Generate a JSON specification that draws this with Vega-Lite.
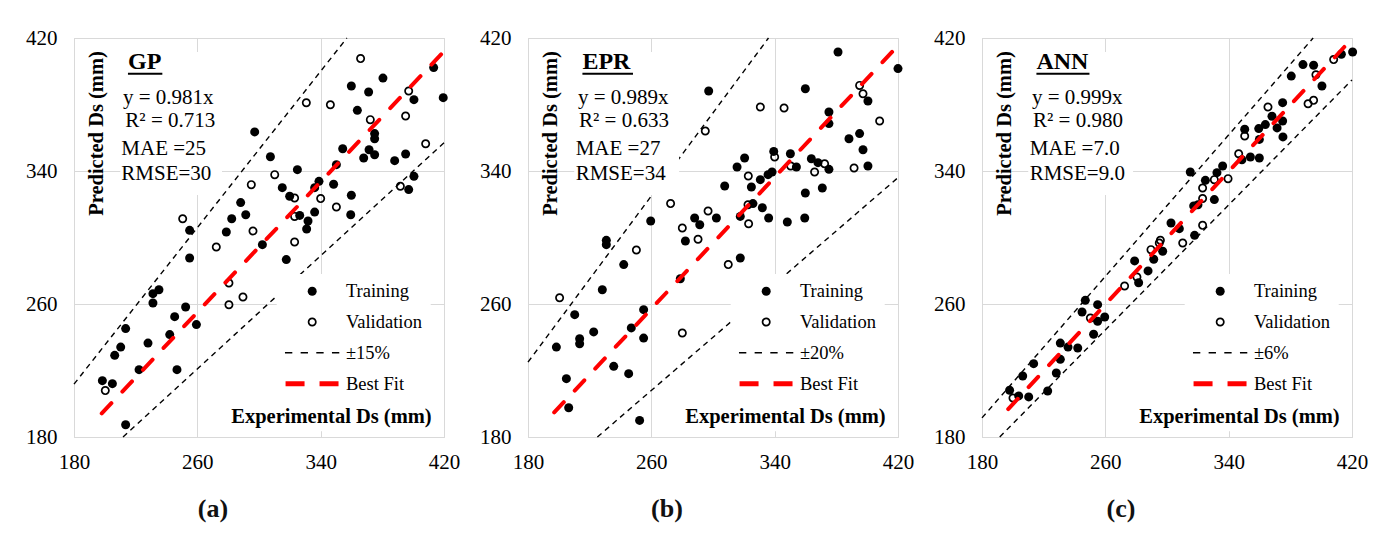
{
  "$schema": "https://vega.github.io/schema/vega-lite/v6.json",
  "background": "white",
  "padding": {"left": 25, "top": 26, "right": 0, "bottom": 0},
  "bounds": "flush",
  "spacing": 84,
  "config": {
    "view": {"stroke": "#d4d4d4", "strokeWidth": 1},
    "font": "Liberation Serif",
    "axis": {"grid": true, "gridColor": "#d9d9d9", "gridWidth": 1, "domain": false, "ticks": false, "labelFont": "Liberation Serif", "labelFontSize": 21, "labelColor": "black", "labelFlush": false, "titleFont": "Liberation Serif", "titleFontSize": 20.5, "titleFontWeight": "bold", "titleColor": "black"},
    "axisX": {"labelPadding": 14},
    "axisY": {"labelPadding": 17},
    "legend": {"orient": "none", "legendX": 202.7, "legendY": 236, "title": null, "fillColor": "white", "padding": 8, "symbolSize": 81, "symbolStrokeWidth": 0, "symbolOffset": 18.25, "labelOffset": 24.5, "rowPadding": 11.8, "labelFont": "Liberation Serif", "labelFontSize": 18.5, "labelColor": "black", "labelBaseline": "middle", "labelLimit": 200},
    "title": {"font": "Liberation Serif", "fontSize": 26, "fontWeight": "bold", "color": "#111111", "orient": "bottom", "anchor": "middle", "dx": -46, "offset": 24}
  },
  "datasets": {
    "gp_points": [
      {"x":198.4,"y":213.9,"series":"Training"},{"x":204.9,"y":212.1,"series":"Training"},{"x":213.5,"y":187.4,"series":"Training"},{"x":206.4,"y":229.1,"series":"Training"},{"x":210.3,"y":234.1,"series":"Training"},{"x":213.5,"y":245.2,"series":"Training"},{"x":222.2,"y":220.5,"series":"Training"},{"x":228.0,"y":236.5,"series":"Training"},{"x":231.2,"y":266.2,"series":"Training"},{"x":235.1,"y":268.6,"series":"Training"},{"x":231.2,"y":260.6,"series":"Training"},{"x":242.1,"y":241.6,"series":"Training"},{"x":245.3,"y":252.4,"series":"Training"},{"x":246.8,"y":220.5,"series":"Training"},{"x":252.4,"y":258.2,"series":"Training"},{"x":259.4,"y":247.6,"series":"Training"},{"x":255.0,"y":287.7,"series":"Training"},{"x":255.0,"y":304.3,"series":"Training"},{"x":278.8,"y":303.3,"series":"Training"},{"x":282.3,"y":311.3,"series":"Training"},{"x":288.1,"y":321.0,"series":"Training"},{"x":291.4,"y":313.7,"series":"Training"},{"x":297.2,"y":363.5,"series":"Training"},{"x":302.2,"y":295.7,"series":"Training"},{"x":307.4,"y":348.6,"series":"Training"},{"x":315.1,"y":330.0,"series":"Training"},{"x":319.9,"y":324.8,"series":"Training"},{"x":324.9,"y":340.8,"series":"Training"},{"x":317.7,"y":286.7,"series":"Training"},{"x":326.4,"y":313.3,"series":"Training"},{"x":331.8,"y":309.9,"series":"Training"},{"x":330.9,"y":305.1,"series":"Training"},{"x":336.1,"y":315.3,"series":"Training"},{"x":336.1,"y":330.0,"series":"Training"},{"x":338.9,"y":333.8,"series":"Training"},{"x":348.4,"y":332.0,"series":"Training"},{"x":350.2,"y":343.8,"series":"Training"},{"x":354.3,"y":353.4,"series":"Training"},{"x":359.9,"y":325.4,"series":"Training"},{"x":359.5,"y":313.7,"series":"Training"},{"x":359.9,"y":391.1,"series":"Training"},{"x":363.8,"y":376.5,"series":"Training"},{"x":371.1,"y":387.5,"series":"Training"},{"x":375.0,"y":362.5,"series":"Training"},{"x":375.0,"y":359.4,"series":"Training"},{"x":371.4,"y":352.8,"series":"Training"},{"x":375.0,"y":349.8,"series":"Training"},{"x":367.9,"y":347.8,"series":"Training"},{"x":380.4,"y":395.9,"series":"Training"},{"x":388.0,"y":346.2,"series":"Training"},{"x":395.1,"y":350.2,"series":"Training"},{"x":400.5,"y":382.9,"series":"Training"},{"x":400.5,"y":336.8,"series":"Training"},{"x":397.1,"y":328.8,"series":"Training"},{"x":413.3,"y":402.2,"series":"Training"},{"x":419.5,"y":384.1,"series":"Training"},
      {"x":200.3,"y":207.9,"series":"Validation"},{"x":250.5,"y":311.3,"series":"Validation"},{"x":272.3,"y":294.3,"series":"Validation"},{"x":280.5,"y":272.6,"series":"Validation"},{"x":280.5,"y":259.6,"series":"Validation"},{"x":289.6,"y":264.2,"series":"Validation"},{"x":296.1,"y":303.9,"series":"Validation"},{"x":295.0,"y":331.8,"series":"Validation"},{"x":310.2,"y":337.8,"series":"Validation"},{"x":323.1,"y":323.8,"series":"Validation"},{"x":323.1,"y":312.7,"series":"Validation"},{"x":323.1,"y":297.3,"series":"Validation"},{"x":330.7,"y":381.1,"series":"Validation"},{"x":340.0,"y":323.4,"series":"Validation"},{"x":346.3,"y":379.9,"series":"Validation"},{"x":350.2,"y":318.3,"series":"Validation"},{"x":365.9,"y":407.6,"series":"Validation"},{"x":372.2,"y":370.9,"series":"Validation"},{"x":391.7,"y":330.8,"series":"Validation"},{"x":395.1,"y":373.1,"series":"Validation"},{"x":397.1,"y":388.1,"series":"Validation"},{"x":408.1,"y":356.4,"series":"Validation"}
    ],
    "gp_band": [
      {"x":180,"y":211.8,"line":"upper"},{"x":357,"y":420,"line":"upper"},
      {"x":211.8,"y":180,"line":"lower"},{"x":420,"y":357,"line":"lower"}
    ],
    "gp_fit": [{"x":198,"y":194.2},{"x":420,"y":412.0}],
    "epr_points": [
      {"x":297.2,"y":388.1,"series":"Training"},{"x":381.1,"y":411.6,"series":"Training"},{"x":420.0,"y":401.6,"series":"Training"},{"x":359.9,"y":389.5,"series":"Training"},{"x":375.2,"y":375.5,"series":"Training"},{"x":375.2,"y":368.5,"series":"Training"},{"x":400.5,"y":382.1,"series":"Training"},{"x":388.2,"y":359.4,"series":"Training"},{"x":395.1,"y":362.5,"series":"Training"},{"x":397.3,"y":352.8,"series":"Training"},{"x":400.5,"y":343.0,"series":"Training"},{"x":339.4,"y":351.8,"series":"Training"},{"x":320.5,"y":347.8,"series":"Training"},{"x":315.6,"y":342.4,"series":"Training"},{"x":350.2,"y":350.4,"series":"Training"},{"x":354.1,"y":342.4,"series":"Training"},{"x":363.8,"y":347.4,"series":"Training"},{"x":368.1,"y":345.0,"series":"Training"},{"x":375.2,"y":341.0,"series":"Training"},{"x":338.3,"y":339.4,"series":"Training"},{"x":335.7,"y":337.8,"series":"Training"},{"x":330.7,"y":334.8,"series":"Training"},{"x":324.9,"y":330.4,"series":"Training"},{"x":307.6,"y":331.0,"series":"Training"},{"x":359.9,"y":326.8,"series":"Training"},{"x":370.9,"y":329.8,"series":"Training"},{"x":325.9,"y":320.4,"series":"Training"},{"x":332.0,"y":317.9,"series":"Training"},{"x":317.7,"y":312.7,"series":"Training"},{"x":336.1,"y":311.7,"series":"Training"},{"x":302.2,"y":311.7,"series":"Training"},{"x":288.1,"y":311.7,"series":"Training"},{"x":291.4,"y":307.7,"series":"Training"},{"x":282.1,"y":297.9,"series":"Training"},{"x":348.2,"y":309.3,"series":"Training"},{"x":359.5,"y":311.7,"series":"Training"},{"x":317.7,"y":287.7,"series":"Training"},{"x":259.6,"y":309.9,"series":"Training"},{"x":230.8,"y":298.3,"series":"Training"},{"x":230.8,"y":295.7,"series":"Training"},{"x":242.1,"y":283.7,"series":"Training"},{"x":228.2,"y":268.6,"series":"Training"},{"x":278.8,"y":275.2,"series":"Training"},{"x":255.0,"y":256.6,"series":"Training"},{"x":210.3,"y":253.6,"series":"Training"},{"x":222.6,"y":243.2,"series":"Training"},{"x":213.5,"y":239.1,"series":"Training"},{"x":213.5,"y":236.1,"series":"Training"},{"x":198.4,"y":234.1,"series":"Training"},{"x":247.0,"y":245.6,"series":"Training"},{"x":255.0,"y":239.5,"series":"Training"},{"x":235.6,"y":222.5,"series":"Training"},{"x":245.3,"y":218.1,"series":"Training"},{"x":204.9,"y":215.1,"series":"Training"},{"x":206.4,"y":197.6,"series":"Training"},{"x":252.4,"y":190.0,"series":"Training"},
      {"x":330.7,"y":378.5,"series":"Validation"},{"x":346.1,"y":377.9,"series":"Validation"},{"x":295.0,"y":364.1,"series":"Validation"},{"x":395.1,"y":391.5,"series":"Validation"},{"x":397.3,"y":386.5,"series":"Validation"},{"x":408.1,"y":370.1,"series":"Validation"},{"x":340.0,"y":348.4,"series":"Validation"},{"x":350.4,"y":343.0,"series":"Validation"},{"x":365.9,"y":339.4,"series":"Validation"},{"x":372.4,"y":344.4,"series":"Validation"},{"x":391.5,"y":341.8,"series":"Validation"},{"x":322.9,"y":337.0,"series":"Validation"},{"x":272.5,"y":320.4,"series":"Validation"},{"x":296.8,"y":315.9,"series":"Validation"},{"x":322.7,"y":319.7,"series":"Validation"},{"x":280.1,"y":305.7,"series":"Validation"},{"x":290.3,"y":298.9,"series":"Validation"},{"x":323.1,"y":308.3,"series":"Validation"},{"x":250.3,"y":292.5,"series":"Validation"},{"x":309.9,"y":283.7,"series":"Validation"},{"x":200.5,"y":263.8,"series":"Validation"},{"x":280.1,"y":242.6,"series":"Validation"}
    ],
    "epr_band": [
      {"x":180,"y":225,"line":"upper"},{"x":336,"y":420,"line":"upper"},
      {"x":225,"y":180,"line":"lower"},{"x":420,"y":336,"line":"lower"}
    ],
    "epr_fit": [{"x":197,"y":194.8},{"x":420,"y":415.4}],
    "ann_points": [
      {"x":420.4,"y":411.6,"series":"Training"},{"x":413.1,"y":410.2,"series":"Training"},{"x":388.2,"y":404.0,"series":"Training"},{"x":395.1,"y":403.6,"series":"Training"},{"x":380.6,"y":397.1,"series":"Training"},{"x":400.5,"y":391.1,"series":"Training"},{"x":375.0,"y":381.1,"series":"Training"},{"x":368.1,"y":372.9,"series":"Training"},{"x":375.0,"y":370.1,"series":"Training"},{"x":371.4,"y":365.9,"series":"Training"},{"x":375.2,"y":360.5,"series":"Training"},{"x":363.8,"y":367.9,"series":"Training"},{"x":359.5,"y":365.5,"series":"Training"},{"x":350.4,"y":365.1,"series":"Training"},{"x":359.9,"y":359.0,"series":"Training"},{"x":348.6,"y":346.8,"series":"Training"},{"x":354.1,"y":348.4,"series":"Training"},{"x":359.9,"y":347.8,"series":"Training"},{"x":315.1,"y":339.4,"series":"Training"},{"x":336.1,"y":343.0,"series":"Training"},{"x":332.4,"y":339.0,"series":"Training"},{"x":324.9,"y":334.4,"series":"Training"},{"x":330.7,"y":322.8,"series":"Training"},{"x":317.3,"y":319.0,"series":"Training"},{"x":320.1,"y":319.7,"series":"Training"},{"x":302.6,"y":308.7,"series":"Training"},{"x":308.0,"y":305.3,"series":"Training"},{"x":317.9,"y":301.3,"series":"Training"},{"x":297.2,"y":291.7,"series":"Training"},{"x":291.4,"y":286.9,"series":"Training"},{"x":279.0,"y":285.9,"series":"Training"},{"x":287.7,"y":279.9,"series":"Training"},{"x":281.6,"y":272.8,"series":"Training"},{"x":247.0,"y":262.2,"series":"Training"},{"x":255.0,"y":259.6,"series":"Training"},{"x":244.9,"y":255.2,"series":"Training"},{"x":259.6,"y":252.2,"series":"Training"},{"x":255.0,"y":249.6,"series":"Training"},{"x":252.4,"y":241.8,"series":"Training"},{"x":230.8,"y":236.5,"series":"Training"},{"x":235.8,"y":234.1,"series":"Training"},{"x":242.1,"y":233.5,"series":"Training"},{"x":230.8,"y":226.7,"series":"Training"},{"x":213.5,"y":224.1,"series":"Training"},{"x":228.2,"y":218.5,"series":"Training"},{"x":206.4,"y":216.7,"series":"Training"},{"x":197.9,"y":208.1,"series":"Training"},{"x":203.8,"y":204.7,"series":"Training"},{"x":210.3,"y":204.1,"series":"Training"},{"x":222.6,"y":207.7,"series":"Training"},
      {"x":408.1,"y":407.0,"series":"Validation"},{"x":396.6,"y":397.9,"series":"Validation"},{"x":391.5,"y":380.5,"series":"Validation"},{"x":395.1,"y":382.5,"series":"Validation"},{"x":365.5,"y":378.5,"series":"Validation"},{"x":350.4,"y":361.1,"series":"Validation"},{"x":346.5,"y":350.4,"series":"Validation"},{"x":339.6,"y":335.4,"series":"Validation"},{"x":330.7,"y":334.8,"series":"Validation"},{"x":323.1,"y":329.8,"series":"Validation"},{"x":323.1,"y":323.4,"series":"Validation"},{"x":323.1,"y":307.3,"series":"Validation"},{"x":310.2,"y":296.7,"series":"Validation"},{"x":295.7,"y":298.3,"series":"Validation"},{"x":295.0,"y":296.7,"series":"Validation"},{"x":289.6,"y":292.7,"series":"Validation"},{"x":272.5,"y":270.8,"series":"Validation"},{"x":280.5,"y":276.2,"series":"Validation"},{"x":250.3,"y":251.6,"series":"Validation"},{"x":200.1,"y":203.5,"series":"Validation"}
    ],
    "ann_band": [
      {"x":180,"y":191.5,"line":"upper"},{"x":394.8,"y":420,"line":"upper"},
      {"x":191.5,"y":180,"line":"lower"},{"x":420,"y":394.8,"line":"lower"}
    ],
    "ann_fit": [{"x":197,"y":196.8},{"x":420,"y":419.6}]
  },
  "hconcat": [
    {
      "width": 370, "height": 399,
      "title": {"text": "(a)"},
      "layer": [
        {"data": {"name": "gp_band"}, "mark": {"type": "line", "color": "black", "strokeDash": [5.5, 4.5], "strokeWidth": 1.4},
         "encoding": {
           "x": {"field": "x", "type": "quantitative", "scale": {"domain": [180, 420], "nice": false, "zero": false}, "axis": {"values": [180, 260, 340, 420], "title": null}},
           "y": {"field": "y", "type": "quantitative", "scale": {"domain": [180, 420], "nice": false, "zero": false}, "axis": {"values": [180, 260, 340, 420], "title": "Predicted Ds (mm)", "titleX": 22.5, "titleY": 95, "titleAlign": "center", "titleBaseline": "middle", "titleAngle": -90}},
           "detail": {"field": "line"}}},
        {"data": {"values": [{}]}, "mark": {"type": "rect", "color": "white"}, "encoding": {"x": {"datum": 210, "type": "quantitative"}, "x2": {"datum": 276}, "y": {"datum": 325.5, "type": "quantitative"}, "y2": {"datum": 411.6}}},
        {"data": {"values": [{}]}, "mark": {"type": "rect", "color": "white"}, "encoding": {"x": {"datum": 280, "type": "quantitative"}, "x2": {"datum": 416}, "y": {"datum": 183.5, "type": "quantitative"}, "y2": {"datum": 203}}},
        {"data": {"name": "gp_points"}, "mark": {"type": "point", "filled": true, "opacity": 1, "size": 81},
         "encoding": {
           "x": {"field": "x", "type": "quantitative", "axis": {"values": [180, 260, 340, 420], "title": null}},
           "y": {"field": "y", "type": "quantitative", "axis": {"values": [180, 260, 340, 420], "title": "Predicted Ds (mm)", "titleX": 22.5, "titleY": 95, "titleAlign": "center", "titleBaseline": "middle", "titleAngle": -90}},
           "shape": {"field": "series", "type": "nominal", "scale": {"domain": ["Training", "Validation", "±15%", "Best Fit"], "range": ["circle", "M-1,0A1,1 0 1,0 1,0A1,1 0 1,0 -1,0Z M-0.62,0A0.62,0.62 0 1,1 0.62,0A0.62,0.62 0 1,1 -0.62,0Z", "M-6.05,-0.17H-4.42V0.17H-6.05Z M-2.57,-0.17H-0.94V0.17H-2.57Z M0.91,-0.17H2.54V0.17H0.91Z M4.39,-0.17H6.02V0.17H4.39Z", "M-5.92,-0.55H-1.7V0.55H-5.92Z M1.63,-0.55H5.85V0.55H1.63Z"]}},
           "color": {"field": "series", "type": "nominal", "scale": {"domain": ["Training", "Validation", "±15%", "Best Fit"], "range": ["black", "black", "black", "#ff0000"]}}
         }},
        {"data": {"name": "gp_fit"}, "mark": {"type": "line", "color": "#ff0000", "strokeDash": [14, 16], "strokeWidth": 4, "strokeCap": "round"},
         "encoding": {
           "x": {"field": "x", "type": "quantitative", "axis": {"values": [180, 260, 340, 420], "title": null}},
           "y": {"field": "y", "type": "quantitative", "axis": {"values": [180, 260, 340, 420], "title": "Predicted Ds (mm)", "titleX": 22.5, "titleY": 95, "titleAlign": "center", "titleBaseline": "middle", "titleAngle": -90}}}},
        {"data": {"values": [{}]}, "mark": {"type": "text", "align": "center", "baseline": "middle", "fontSize": 20.5, "fontWeight": "bold", "color": "black"}, "encoding": {"x": {"datum": 347, "type": "quantitative"}, "y": {"datum": 192, "type": "quantitative"}, "text": {"value": "Experimental Ds (mm)"}}},
        {"data": {"values": [{}]}, "mark": {"type": "text", "align": "left", "baseline": "middle", "fontSize": 24, "fontWeight": "bold", "color": "black"}, "encoding": {"x": {"datum": 215, "type": "quantitative"}, "y": {"datum": 405.6, "type": "quantitative"}, "text": {"value": "GP"}}},
        {"data": {"values": [{}]}, "mark": {"type": "rule", "color": "black", "strokeWidth": 2}, "encoding": {"x": {"datum": 215, "type": "quantitative"}, "x2": {"datum": 237.3}, "y": {"datum": 398.5, "type": "quantitative"}}},
        {"data": {"values": [{}]}, "mark": {"type": "text", "align": "left", "baseline": "middle", "fontSize": 21, "color": "black"}, "encoding": {"x": {"datum": 211.8, "type": "quantitative"}, "y": {"datum": 383.9, "type": "quantitative"}, "text": {"value": "y = 0.981x"}}},
        {"data": {"values": [{}]}, "mark": {"type": "text", "align": "left", "baseline": "middle", "fontSize": 21, "color": "black"}, "encoding": {"x": {"datum": 213.3, "type": "quantitative"}, "y": {"datum": 370.1, "type": "quantitative"}, "text": {"value": "R² = 0.713"}}},
        {"data": {"values": [{}]}, "mark": {"type": "text", "align": "left", "baseline": "middle", "fontSize": 21, "color": "black"}, "encoding": {"x": {"datum": 210.7, "type": "quantitative"}, "y": {"datum": 353.2, "type": "quantitative"}, "text": {"value": "MAE =25"}}},
        {"data": {"values": [{}]}, "mark": {"type": "text", "align": "left", "baseline": "middle", "fontSize": 21, "color": "black"}, "encoding": {"x": {"datum": 210.7, "type": "quantitative"}, "y": {"datum": 338.4, "type": "quantitative"}, "text": {"value": "RMSE=30"}}}
      ]
    },
    {
      "width": 370, "height": 399,
      "title": {"text": "(b)"},
      "layer": [
        {"data": {"name": "epr_band"}, "mark": {"type": "line", "color": "black", "strokeDash": [5.5, 4.5], "strokeWidth": 1.4},
         "encoding": {
           "x": {"field": "x", "type": "quantitative", "scale": {"domain": [180, 420], "nice": false, "zero": false}, "axis": {"values": [180, 260, 340, 420], "title": null}},
           "y": {"field": "y", "type": "quantitative", "scale": {"domain": [180, 420], "nice": false, "zero": false}, "axis": {"values": [180, 260, 340, 420], "title": "Predicted Ds (mm)", "titleX": 22.5, "titleY": 95, "titleAlign": "center", "titleBaseline": "middle", "titleAngle": -90}},
           "detail": {"field": "line"}}},
        {"data": {"values": [{}]}, "mark": {"type": "rect", "color": "white"}, "encoding": {"x": {"datum": 210, "type": "quantitative"}, "x2": {"datum": 278}, "y": {"datum": 325.5, "type": "quantitative"}, "y2": {"datum": 411.6}}},
        {"data": {"values": [{}]}, "mark": {"type": "rect", "color": "white"}, "encoding": {"x": {"datum": 280, "type": "quantitative"}, "x2": {"datum": 416}, "y": {"datum": 183.5, "type": "quantitative"}, "y2": {"datum": 203}}},
        {"data": {"name": "epr_points"}, "mark": {"type": "point", "filled": true, "opacity": 1, "size": 81},
         "encoding": {
           "x": {"field": "x", "type": "quantitative", "axis": {"values": [180, 260, 340, 420], "title": null}},
           "y": {"field": "y", "type": "quantitative", "axis": {"values": [180, 260, 340, 420], "title": "Predicted Ds (mm)", "titleX": 22.5, "titleY": 95, "titleAlign": "center", "titleBaseline": "middle", "titleAngle": -90}},
           "shape": {"field": "series", "type": "nominal", "scale": {"domain": ["Training", "Validation", "±20%", "Best Fit"], "range": ["circle", "M-1,0A1,1 0 1,0 1,0A1,1 0 1,0 -1,0Z M-0.62,0A0.62,0.62 0 1,1 0.62,0A0.62,0.62 0 1,1 -0.62,0Z", "M-6.05,-0.17H-4.42V0.17H-6.05Z M-2.57,-0.17H-0.94V0.17H-2.57Z M0.91,-0.17H2.54V0.17H0.91Z M4.39,-0.17H6.02V0.17H4.39Z", "M-5.92,-0.55H-1.7V0.55H-5.92Z M1.63,-0.55H5.85V0.55H1.63Z"]}},
           "color": {"field": "series", "type": "nominal", "scale": {"domain": ["Training", "Validation", "±20%", "Best Fit"], "range": ["black", "black", "black", "#ff0000"]}}
         }},
        {"data": {"name": "epr_fit"}, "mark": {"type": "line", "color": "#ff0000", "strokeDash": [14, 16], "strokeWidth": 4, "strokeCap": "round"},
         "encoding": {
           "x": {"field": "x", "type": "quantitative", "axis": {"values": [180, 260, 340, 420], "title": null}},
           "y": {"field": "y", "type": "quantitative", "axis": {"values": [180, 260, 340, 420], "title": "Predicted Ds (mm)", "titleX": 22.5, "titleY": 95, "titleAlign": "center", "titleBaseline": "middle", "titleAngle": -90}}}},
        {"data": {"values": [{}]}, "mark": {"type": "text", "align": "center", "baseline": "middle", "fontSize": 20.5, "fontWeight": "bold", "color": "black"}, "encoding": {"x": {"datum": 347, "type": "quantitative"}, "y": {"datum": 192, "type": "quantitative"}, "text": {"value": "Experimental Ds (mm)"}}},
        {"data": {"values": [{}]}, "mark": {"type": "text", "align": "left", "baseline": "middle", "fontSize": 24, "fontWeight": "bold", "color": "black"}, "encoding": {"x": {"datum": 215.3, "type": "quantitative"}, "y": {"datum": 405.6, "type": "quantitative"}, "text": {"value": "EPR"}}},
        {"data": {"values": [{}]}, "mark": {"type": "rule", "color": "black", "strokeWidth": 2}, "encoding": {"x": {"datum": 215.3, "type": "quantitative"}, "x2": {"datum": 248.1}, "y": {"datum": 398.5, "type": "quantitative"}}},
        {"data": {"values": [{}]}, "mark": {"type": "text", "align": "left", "baseline": "middle", "fontSize": 21, "color": "black"}, "encoding": {"x": {"datum": 212.4, "type": "quantitative"}, "y": {"datum": 383.9, "type": "quantitative"}, "text": {"value": "y = 0.989x"}}},
        {"data": {"values": [{}]}, "mark": {"type": "text", "align": "left", "baseline": "middle", "fontSize": 21, "color": "black"}, "encoding": {"x": {"datum": 213.1, "type": "quantitative"}, "y": {"datum": 370.1, "type": "quantitative"}, "text": {"value": "R² = 0.633"}}},
        {"data": {"values": [{}]}, "mark": {"type": "text", "align": "left", "baseline": "middle", "fontSize": 21, "color": "black"}, "encoding": {"x": {"datum": 210.9, "type": "quantitative"}, "y": {"datum": 353.2, "type": "quantitative"}, "text": {"value": "MAE =27"}}},
        {"data": {"values": [{}]}, "mark": {"type": "text", "align": "left", "baseline": "middle", "fontSize": 21, "color": "black"}, "encoding": {"x": {"datum": 210.9, "type": "quantitative"}, "y": {"datum": 338.4, "type": "quantitative"}, "text": {"value": "RMSE=34"}}}
      ]
    },
    {
      "width": 370, "height": 399,
      "title": {"text": "(c)"},
      "layer": [
        {"data": {"name": "ann_band"}, "mark": {"type": "line", "color": "black", "strokeDash": [5.5, 4.5], "strokeWidth": 1.4},
         "encoding": {
           "x": {"field": "x", "type": "quantitative", "scale": {"domain": [180, 420], "nice": false, "zero": false}, "axis": {"values": [180, 260, 340, 420], "title": null}},
           "y": {"field": "y", "type": "quantitative", "scale": {"domain": [180, 420], "nice": false, "zero": false}, "axis": {"values": [180, 260, 340, 420], "title": "Predicted Ds (mm)", "titleX": 22.5, "titleY": 95, "titleAlign": "center", "titleBaseline": "middle", "titleAngle": -90}},
           "detail": {"field": "line"}}},
        {"data": {"values": [{}]}, "mark": {"type": "rect", "color": "white"}, "encoding": {"x": {"datum": 210, "type": "quantitative"}, "x2": {"datum": 278}, "y": {"datum": 325.5, "type": "quantitative"}, "y2": {"datum": 411.6}}},
        {"data": {"values": [{}]}, "mark": {"type": "rect", "color": "white"}, "encoding": {"x": {"datum": 280, "type": "quantitative"}, "x2": {"datum": 416}, "y": {"datum": 183.5, "type": "quantitative"}, "y2": {"datum": 203}}},
        {"data": {"name": "ann_points"}, "mark": {"type": "point", "filled": true, "opacity": 1, "size": 81},
         "encoding": {
           "x": {"field": "x", "type": "quantitative", "axis": {"values": [180, 260, 340, 420], "title": null}},
           "y": {"field": "y", "type": "quantitative", "axis": {"values": [180, 260, 340, 420], "title": "Predicted Ds (mm)", "titleX": 22.5, "titleY": 95, "titleAlign": "center", "titleBaseline": "middle", "titleAngle": -90}},
           "shape": {"field": "series", "type": "nominal", "scale": {"domain": ["Training", "Validation", "±6%", "Best Fit"], "range": ["circle", "M-1,0A1,1 0 1,0 1,0A1,1 0 1,0 -1,0Z M-0.62,0A0.62,0.62 0 1,1 0.62,0A0.62,0.62 0 1,1 -0.62,0Z", "M-6.05,-0.17H-4.42V0.17H-6.05Z M-2.57,-0.17H-0.94V0.17H-2.57Z M0.91,-0.17H2.54V0.17H0.91Z M4.39,-0.17H6.02V0.17H4.39Z", "M-5.92,-0.55H-1.7V0.55H-5.92Z M1.63,-0.55H5.85V0.55H1.63Z"]}},
           "color": {"field": "series", "type": "nominal", "scale": {"domain": ["Training", "Validation", "±6%", "Best Fit"], "range": ["black", "black", "black", "#ff0000"]}}
         }},
        {"data": {"name": "ann_fit"}, "mark": {"type": "line", "color": "#ff0000", "strokeDash": [14, 16], "strokeWidth": 4, "strokeCap": "round"},
         "encoding": {
           "x": {"field": "x", "type": "quantitative", "axis": {"values": [180, 260, 340, 420], "title": null}},
           "y": {"field": "y", "type": "quantitative", "axis": {"values": [180, 260, 340, 420], "title": "Predicted Ds (mm)", "titleX": 22.5, "titleY": 95, "titleAlign": "center", "titleBaseline": "middle", "titleAngle": -90}}}},
        {"data": {"values": [{}]}, "mark": {"type": "text", "align": "center", "baseline": "middle", "fontSize": 20.5, "fontWeight": "bold", "color": "black"}, "encoding": {"x": {"datum": 347, "type": "quantitative"}, "y": {"datum": 192, "type": "quantitative"}, "text": {"value": "Experimental Ds (mm)"}}},
        {"data": {"values": [{}]}, "mark": {"type": "text", "align": "left", "baseline": "middle", "fontSize": 24, "fontWeight": "bold", "color": "black"}, "encoding": {"x": {"datum": 215.3, "type": "quantitative"}, "y": {"datum": 405.6, "type": "quantitative"}, "text": {"value": "ANN"}}},
        {"data": {"values": [{}]}, "mark": {"type": "rule", "color": "black", "strokeWidth": 2}, "encoding": {"x": {"datum": 215.3, "type": "quantitative"}, "x2": {"datum": 249.7}, "y": {"datum": 398.5, "type": "quantitative"}}},
        {"data": {"values": [{}]}, "mark": {"type": "text", "align": "left", "baseline": "middle", "fontSize": 21, "color": "black"}, "encoding": {"x": {"datum": 212.4, "type": "quantitative"}, "y": {"datum": 383.9, "type": "quantitative"}, "text": {"value": "y = 0.999x"}}},
        {"data": {"values": [{}]}, "mark": {"type": "text", "align": "left", "baseline": "middle", "fontSize": 21, "color": "black"}, "encoding": {"x": {"datum": 213.1, "type": "quantitative"}, "y": {"datum": 370.1, "type": "quantitative"}, "text": {"value": "R² = 0.980"}}},
        {"data": {"values": [{}]}, "mark": {"type": "text", "align": "left", "baseline": "middle", "fontSize": 21, "color": "black"}, "encoding": {"x": {"datum": 210.9, "type": "quantitative"}, "y": {"datum": 353.2, "type": "quantitative"}, "text": {"value": "MAE =7.0"}}},
        {"data": {"values": [{}]}, "mark": {"type": "text", "align": "left", "baseline": "middle", "fontSize": 21, "color": "black"}, "encoding": {"x": {"datum": 210.9, "type": "quantitative"}, "y": {"datum": 338.4, "type": "quantitative"}, "text": {"value": "RMSE=9.0"}}}
      ]
    }
  ],
  "resolve": {"scale": {"shape": "independent", "color": "independent", "x": "independent", "y": "independent"}, "legend": {"shape": "independent", "color": "independent"}}
}
